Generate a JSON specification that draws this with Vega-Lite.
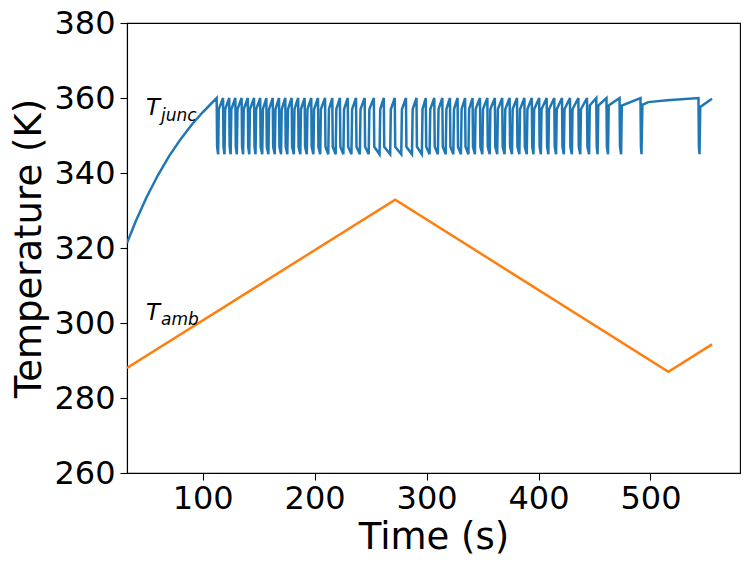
{
  "$schema": "https://vega.github.io/schema/vega-lite/v6.json",
  "width": 613,
  "height": 450,
  "autosize": "none",
  "padding": {"left": 127, "top": 23, "right": 8, "bottom": 98},
  "background": "white",
  "config": {
    "view": {"stroke": "black", "strokeWidth": 1.1},
    "axis": {
      "grid": false,
      "domainColor": "black",
      "domainWidth": 1.1,
      "tickColor": "black",
      "tickWidth": 1.1,
      "tickSize": 7,
      "labelFont": "DejaVu Sans",
      "labelFontSize": 32,
      "labelColor": "black",
      "titleFont": "DejaVu Sans",
      "titleFontSize": 37,
      "titleFontWeight": "normal",
      "titleColor": "black"
    }
  },
  "encoding": {
    "x": {
      "field": "t",
      "type": "quantitative",
      "scale": {"domain": [32.4, 580], "nice": false, "zero": false},
      "axis": {"title": "Time (s)", "values": [100, 200, 300, 400, 500], "labelPadding": 3, "titlePadding": 5}
    },
    "y": {
      "field": "T",
      "type": "quantitative",
      "scale": {"domain": [260, 380], "nice": false, "zero": false},
      "axis": {"title": "Temperature (K)", "values": [260, 280, 300, 320, 340, 360, 380], "labelPadding": 5, "titlePadding": 5}
    }
  },
  "layer": [
    {
      "data": {"values": [
        {"t": 32.4, "T": 321.3}, {"t": 40, "T": 327.0}, {"t": 50, "T": 333.6}, {"t": 60, "T": 339.4},
        {"t": 70, "T": 344.5}, {"t": 80, "T": 348.9}, {"t": 90, "T": 352.8}, {"t": 100, "T": 356.2},
        {"t": 106, "T": 358.0},
        {"t": 112.5, "T": 360}, {"t": 112.9, "T": 347}, {"t": 113.8, "T": 345}, {"t": 114.4, "T": 357},
        {"t": 118.2, "T": 360}, {"t": 118.6, "T": 347}, {"t": 119.5, "T": 345}, {"t": 120.1, "T": 357},
        {"t": 123.7, "T": 360}, {"t": 124.1, "T": 347}, {"t": 125.0, "T": 345}, {"t": 125.6, "T": 357},
        {"t": 129.2, "T": 360}, {"t": 129.6, "T": 347}, {"t": 130.5, "T": 345}, {"t": 131.1, "T": 357},
        {"t": 134.8, "T": 360}, {"t": 135.2, "T": 347}, {"t": 136.1, "T": 345}, {"t": 136.7, "T": 357},
        {"t": 140.3, "T": 360}, {"t": 140.7, "T": 347}, {"t": 141.6, "T": 345}, {"t": 142.2, "T": 357},
        {"t": 145.9, "T": 360}, {"t": 146.3, "T": 347}, {"t": 147.2, "T": 345}, {"t": 147.8, "T": 357},
        {"t": 151.4, "T": 360}, {"t": 151.8, "T": 347}, {"t": 153.2, "T": 345}, {"t": 153.8, "T": 357},
        {"t": 156.9, "T": 360}, {"t": 157.3, "T": 347}, {"t": 158.7, "T": 345}, {"t": 159.3, "T": 357},
        {"t": 162.6, "T": 360}, {"t": 163.0, "T": 347}, {"t": 164.4, "T": 345}, {"t": 165.0, "T": 357},
        {"t": 168.2, "T": 360}, {"t": 168.6, "T": 347}, {"t": 170.0, "T": 345}, {"t": 170.6, "T": 357},
        {"t": 173.8, "T": 360}, {"t": 174.2, "T": 347}, {"t": 175.6, "T": 345}, {"t": 176.2, "T": 357},
        {"t": 179.5, "T": 360}, {"t": 179.9, "T": 347}, {"t": 181.4, "T": 345}, {"t": 182.0, "T": 357},
        {"t": 185.3, "T": 360}, {"t": 185.7, "T": 347}, {"t": 187.2, "T": 345}, {"t": 187.8, "T": 357},
        {"t": 191.1, "T": 360}, {"t": 191.5, "T": 347}, {"t": 193.0, "T": 345}, {"t": 193.6, "T": 357},
        {"t": 197.0, "T": 360}, {"t": 197.4, "T": 347}, {"t": 198.9, "T": 345}, {"t": 199.5, "T": 357},
        {"t": 203.0, "T": 360}, {"t": 203.4, "T": 347}, {"t": 205.0, "T": 345}, {"t": 205.6, "T": 357},
        {"t": 209.3, "T": 360}, {"t": 209.7, "T": 347}, {"t": 212.2, "T": 345}, {"t": 212.8, "T": 357},
        {"t": 215.8, "T": 360}, {"t": 216.2, "T": 347}, {"t": 218.8, "T": 345}, {"t": 219.4, "T": 357},
        {"t": 222.6, "T": 360}, {"t": 223.0, "T": 347}, {"t": 225.7, "T": 345}, {"t": 226.3, "T": 357},
        {"t": 229.6, "T": 360}, {"t": 230.0, "T": 347}, {"t": 232.9, "T": 345}, {"t": 233.5, "T": 357},
        {"t": 237.0, "T": 360}, {"t": 237.4, "T": 347}, {"t": 240.4, "T": 345}, {"t": 241.0, "T": 357},
        {"t": 244.7, "T": 360}, {"t": 245.1, "T": 347}, {"t": 248.3, "T": 345}, {"t": 248.9, "T": 357},
        {"t": 252.9, "T": 360}, {"t": 253.3, "T": 347}, {"t": 258.0, "T": 345}, {"t": 258.6, "T": 357},
        {"t": 261.8, "T": 360}, {"t": 262.2, "T": 347}, {"t": 267.5, "T": 345}, {"t": 268.1, "T": 357},
        {"t": 271.6, "T": 360}, {"t": 272.0, "T": 347}, {"t": 277.4, "T": 345}, {"t": 278.0, "T": 357},
        {"t": 281.6, "T": 360}, {"t": 282.0, "T": 347}, {"t": 287.0, "T": 345}, {"t": 287.6, "T": 357},
        {"t": 291.0, "T": 360}, {"t": 291.4, "T": 347}, {"t": 295.8, "T": 345}, {"t": 296.4, "T": 357},
        {"t": 299.3, "T": 360}, {"t": 299.7, "T": 347}, {"t": 302.7, "T": 345}, {"t": 303.3, "T": 357},
        {"t": 306.9, "T": 360}, {"t": 307.3, "T": 347}, {"t": 310.1, "T": 345}, {"t": 310.7, "T": 357},
        {"t": 314.1, "T": 360}, {"t": 314.5, "T": 347}, {"t": 317.1, "T": 345}, {"t": 317.7, "T": 357},
        {"t": 320.9, "T": 360}, {"t": 321.3, "T": 347}, {"t": 323.9, "T": 345}, {"t": 324.5, "T": 357},
        {"t": 327.7, "T": 360}, {"t": 328.1, "T": 347}, {"t": 330.7, "T": 345}, {"t": 331.3, "T": 357},
        {"t": 334.4, "T": 360}, {"t": 334.8, "T": 347}, {"t": 337.4, "T": 345}, {"t": 338.0, "T": 357},
        {"t": 341.1, "T": 360}, {"t": 341.5, "T": 347}, {"t": 343.2, "T": 345}, {"t": 343.8, "T": 357},
        {"t": 347.7, "T": 360}, {"t": 348.1, "T": 347}, {"t": 349.8, "T": 345}, {"t": 350.4, "T": 357},
        {"t": 354.3, "T": 360}, {"t": 354.7, "T": 347}, {"t": 356.4, "T": 345}, {"t": 357.0, "T": 357},
        {"t": 361.0, "T": 360}, {"t": 361.4, "T": 347}, {"t": 363.1, "T": 345}, {"t": 363.7, "T": 357},
        {"t": 367.6, "T": 360}, {"t": 368.0, "T": 347}, {"t": 369.7, "T": 345}, {"t": 370.3, "T": 357},
        {"t": 374.2, "T": 360}, {"t": 374.6, "T": 347}, {"t": 376.3, "T": 345}, {"t": 376.9, "T": 357},
        {"t": 380.8, "T": 360}, {"t": 381.2, "T": 347}, {"t": 382.9, "T": 345}, {"t": 383.5, "T": 357},
        {"t": 387.4, "T": 360}, {"t": 387.8, "T": 347}, {"t": 389.5, "T": 345}, {"t": 390.1, "T": 357},
        {"t": 394.0, "T": 360}, {"t": 394.4, "T": 347}, {"t": 395.5, "T": 345}, {"t": 396.1, "T": 357},
        {"t": 400.6, "T": 360}, {"t": 401.0, "T": 347}, {"t": 402.1, "T": 345}, {"t": 402.7, "T": 357},
        {"t": 407.3, "T": 360}, {"t": 407.7, "T": 347}, {"t": 408.8, "T": 345}, {"t": 409.4, "T": 357},
        {"t": 414.1, "T": 360}, {"t": 414.5, "T": 347}, {"t": 415.7, "T": 345}, {"t": 416.3, "T": 357},
        {"t": 421.0, "T": 360}, {"t": 421.4, "T": 347}, {"t": 422.6, "T": 345}, {"t": 423.2, "T": 357},
        {"t": 428.1, "T": 360}, {"t": 428.5, "T": 347}, {"t": 429.8, "T": 345}, {"t": 430.4, "T": 357},
        {"t": 435.6, "T": 360}, {"t": 436.0, "T": 347}, {"t": 437.3, "T": 345}, {"t": 437.9, "T": 357},
        {"t": 443.3, "T": 360}, {"t": 443.7, "T": 347}, {"t": 445.2, "T": 345}, {"t": 445.8, "T": 358},
        {"t": 451.6, "T": 360}, {"t": 452.0, "T": 347}, {"t": 452.8, "T": 345}, {"t": 453.4, "T": 358},
        {"t": 460.7, "T": 360}, {"t": 461.1, "T": 347}, {"t": 462.1, "T": 345}, {"t": 462.7, "T": 358},
        {"t": 472.4, "T": 360}, {"t": 472.8, "T": 347}, {"t": 473.8, "T": 345}, {"t": 474.4, "T": 358},
        {"t": 491.1, "T": 360}, {"t": 491.5, "T": 347}, {"t": 492.0, "T": 345}, {"t": 492.8, "T": 358.2},
        {"t": 498.0, "T": 358.9}, {"t": 515.0, "T": 359.4},
        {"t": 542.9, "T": 360}, {"t": 543.3, "T": 347}, {"t": 543.8, "T": 345}, {"t": 544.5, "T": 357.6},
        {"t": 555.0, "T": 359.8}
      ]},
      "mark": {"type": "line", "color": "#1f77b4", "strokeWidth": 2.5, "clip": true}
    },
    {
      "data": {"values": [
        {"t": 32.4, "T": 288.0}, {"t": 272.0, "T": 332.9}, {"t": 516.0, "T": 287.0}, {"t": 555.0, "T": 294.3}
      ]},
      "mark": {"type": "line", "color": "#ff7f0e", "strokeWidth": 2.5, "clip": true}
    },
    {
      "data": {"values": [
        {"t": 49.4, "T": 355.5, "s": "T"},
        {"t": 49.4, "T": 300.8, "s": "T"}
      ]},
      "mark": {"type": "text", "font": "DejaVu Sans", "fontStyle": "italic", "fontSize": 23, "align": "left", "baseline": "alphabetic", "color": "black"},
      "encoding": {"text": {"field": "s"}}
    },
    {
      "data": {"values": [
        {"t": 62.8, "T": 354.0, "s": "junc"},
        {"t": 62.8, "T": 299.4, "s": "amb"}
      ]},
      "mark": {"type": "text", "font": "DejaVu Sans", "fontStyle": "italic", "fontSize": 17, "align": "left", "baseline": "alphabetic", "color": "black"},
      "encoding": {"text": {"field": "s"}}
    }
  ]
}
